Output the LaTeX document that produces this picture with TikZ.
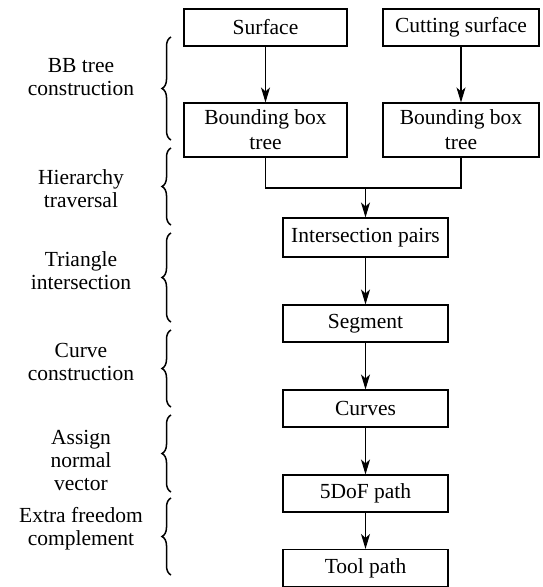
\documentclass[tikz,border=0pt]{standalone}
\usepackage{fontspec}
\setmainfont{LiberationSerif}[Extension=.ttf, UprightFont=*-Regular, BoldFont=*-Bold]
\usetikzlibrary{arrows.meta,decorations.pathreplacing}
\tikzset{
	stage/.style={draw, line width=1.1pt, minimum width=165pt, minimum height=37pt, inner sep=0pt, align=center, font=\fontsize{21.5}{25}\selectfont},
	flow/.style={-{Stealth[length=15pt,width=9pt,inset=4pt]}, line width=1.1pt},
	phase/.style={align=center, font=\fontsize{21.5}{23}\selectfont},
	bracket/.style={decorate, decoration={brace, amplitude=9pt, aspect=0.5}, line width=1.5pt}
}
\begin{document}
\begin{tikzpicture}[x=1pt, y=-1pt]
			\useasboundingbox (0,0) rectangle (542,587);
			\node[stage, minimum width=163pt] (surf) at (265.5,27.5) {Surface};
			\node[stage, minimum width=156pt] (cut) at (461,27.5) {Cutting surface};
			\node[stage, minimum width=163pt, minimum height=54pt] (bbl) at (265.5,130) {Bounding box\\tree};
			\node[stage, minimum width=156pt, minimum height=54pt] (bbr) at (461,130) {Bounding box\\tree};
			\coordinate (join) at (365.5,188);
			\node[stage, minimum height=39pt] (pairs) at (365.5,237.5) {Intersection pairs};
			\node[stage] (seg) at (365.5,323.5) {Segment};
			\node[stage] (curv) at (365.5,408.5) {Curves};
			\node[stage] (dof) at (365.5,493.5) {5DoF path};
			\node[stage] (tool) at (365.5,568) {Tool path};
			\draw[flow] (surf) -- (bbl);
			\draw[flow] (cut) -- (bbr);
			\draw[line width=1.1pt] (bbl.south) |- (join) -| (bbr.south);
			\draw[flow] (join) -- (pairs);
			\draw[flow] (pairs) -- (seg);
			\draw[flow] (seg) -- (curv);
			\draw[flow] (curv) -- (dof);
			\draw[flow] (dof) -- (tool);
			\draw[bracket] (171,140) -- (171,37);
			\draw[bracket] (171,225) -- (171,148);
			\draw[bracket] (171,322) -- (171,233);
			\draw[bracket] (171,407) -- (171,330);
			\draw[bracket] (171,492) -- (171,415);
			\draw[bracket] (171,575) -- (171,498);
			\node[phase] (bb) at (81,77) {BB tree\\construction};
			\node[phase] (hier) at (81,189) {Hierarchy\\traversal};
			\node[phase] (tri) at (81,271) {Triangle\\intersection};
			\node[phase] (crv) at (81,362) {Curve\\construction};
			\node[phase] (nrm) at (81,460) {Assign\\normal\\vector};
			\node[phase] (extra) at (81,529) {Extra freedom\\complement};
\end{tikzpicture}
\end{document}
